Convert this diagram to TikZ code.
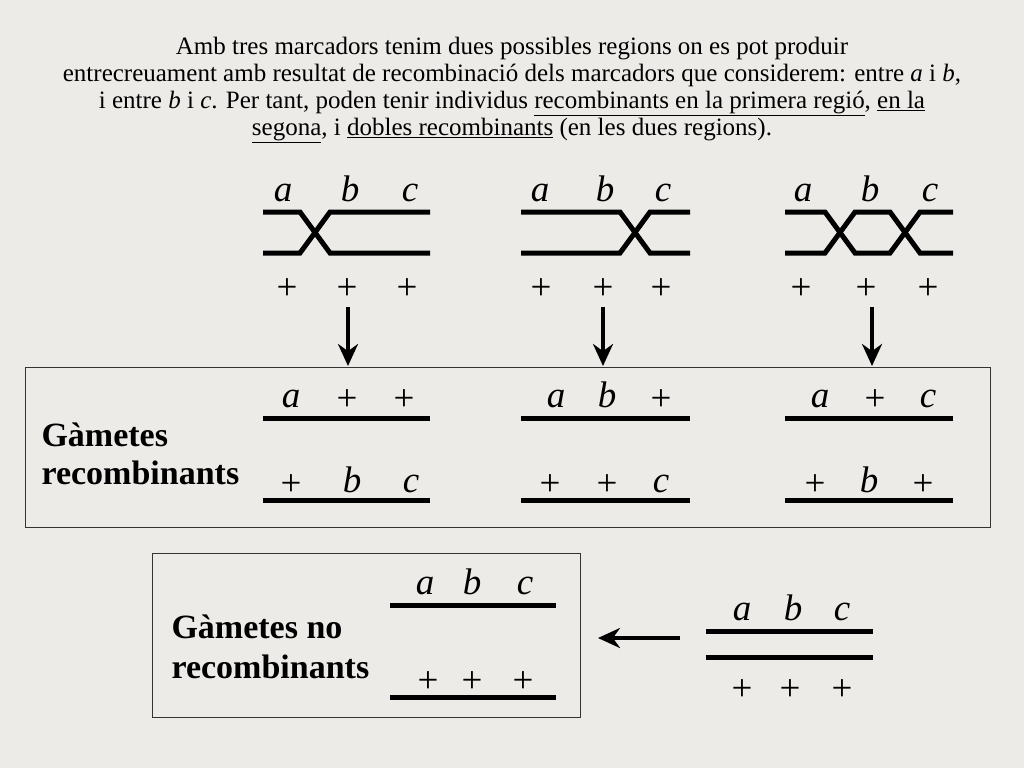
\documentclass[tikz,border=0pt]{standalone}
\usepackage{fontspec}
\setmainfont{Liberation Serif}
\usetikzlibrary{arrows,arrows.meta,positioning}
\definecolor{fons}{HTML}{ECEBE8}
\tikzset{
  chrom/.style={line width=5pt},
  lletra/.style={anchor=base,font=\fontsize{37}{37}\selectfont\itshape},
  mes/.style={anchor=base,font=\fontsize{37}{37}\selectfont},
  fletxa/.style={line width=3.5pt,-{Stealth[length=22pt,width=20pt]}},
  caixa/.style={draw=black!80,line width=1pt}
}
\newcommand{\marques}[4]{% x_a x_b x_c y, letters a b c
  \node[lletra] at (#1,#4) {a};
  \node[lletra] at (#2,#4) {b};
  \node[lletra] at (#3,#4) {c};}
\begin{document}
\begin{tikzpicture}[x=1pt,y=-1pt]
\fill[fons] (0,0) rectangle (1024,768);

% text de capcalera
\node[align=center,font=\fontsize{25}{27}\selectfont] (cap) at (512,90)
{Amb tres marcadors tenim dues possibles regions on es pot produir\\
entrecreuament amb resultat de recombinaci\'o dels marcadors que considerem: entre \textit{a} i \textit{b},\\
i entre \textit{b} i \textit{c}. Per tant, poden tenir individus \underline{recombinants en la primera regi\'o}, \underline{en la}\\
\underline{segona}, i \underline{dobles recombinants} (en les dues regions).};

% entrecreuaments
\marques{283}{350}{410}{201}
\draw[chrom] (263,212) -- (300,212) -- (330,253) -- (430,253);
\draw[chrom] (263,253) -- (300,253) -- (330,212) -- (430,212);
\marques{540}{605}{663}{201}
\draw[chrom] (521,212) -- (620,212) -- (650,253) -- (690,253);
\draw[chrom] (521,253) -- (620,253) -- (650,212) -- (690,212);
\marques{803}{870}{930}{201}
\draw[chrom] (785,212) -- (825,212) -- (855,253) -- (890,253) -- (920,212) -- (953,212);
\draw[chrom] (785,253) -- (825,253) -- (855,212) -- (890,212) -- (920,253) -- (953,253);
\foreach \x in {287,347,407,541,603,661,801,866,928}
  \node[mes] at (\x,299) {+};

% fletxes
\foreach \x in {348,603,872}
  \draw[fletxa] (\x,307) -- (\x,366);

% gametes recombinants
\draw[caixa] (25,367) rectangle (990,527);
\node[font=\fontsize{34}{38}\selectfont\bfseries,align=left,anchor=west] (rec) at (38,454)
{G\`ametes\\recombinants};
\foreach \xa/\xb in {263/430,521/690,785/953}{
  \draw[chrom] (\xa,418) -- (\xb,418);
  \draw[chrom] (\xa,500) -- (\xb,500);}
\node[lletra] at (291,407) {a}; \node[mes] at (347,410) {+}; \node[mes] at (404,410) {+};
\node[mes] at (291,495) {+}; \node[lletra] at (352,492) {b}; \node[lletra] at (411,492) {c};
\node[lletra] at (556,407) {a}; \node[lletra] at (607,407) {b}; \node[mes] at (661,410) {+};
\node[mes] at (550,495) {+}; \node[mes] at (607,495) {+}; \node[lletra] at (661,492) {c};
\node[lletra] at (820,407) {a}; \node[mes] at (875,410) {+}; \node[lletra] at (928,407) {c};
\node[mes] at (815,495) {+}; \node[lletra] at (869,492) {b}; \node[mes] at (923,495) {+};

% gametes no recombinants
\draw[caixa] (152,553) rectangle (580,717);
\node[font=\fontsize{34}{40}\selectfont\bfseries,align=left,anchor=west] (norec) at (168,647)
{G\`ametes no\\recombinants};
\draw[chrom] (390,605) -- (556,605);
\draw[chrom] (390,697) -- (556,697);
\marques{425}{472}{525}{594}
\foreach \x in {428,472,523} \node[mes] at (\x,692) {+};

\draw[chrom] (706,631) -- (873,631);
\draw[chrom] (706,657) -- (873,657);
\marques{742}{793}{842}{620}
\foreach \x in {742,790,842} \node[mes] at (\x,700) {+};
\draw[fletxa] (680,638) -- (598,638);
\end{tikzpicture}
\end{document}
